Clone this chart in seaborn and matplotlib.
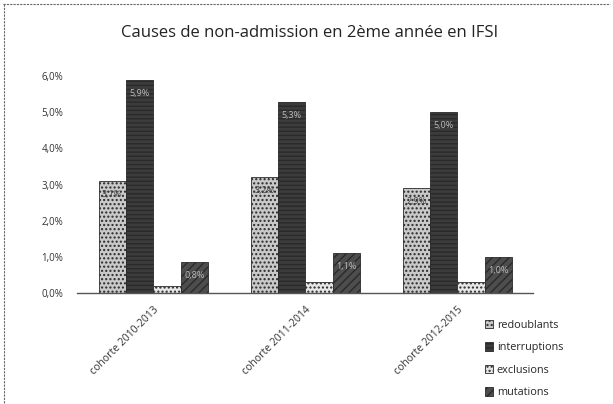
import matplotlib
matplotlib.use("Agg")
import matplotlib.pyplot as plt
import seaborn as sns
import pandas as pd
from matplotlib.patches import Rectangle

cohortes = ["cohorte 2010-2013", "cohorte 2011-2014", "cohorte 2012-2015"]
causes = ["redoublants", "interruptions", "exclusions", "mutations"]
redoublants = [3.1, 3.2, 2.9]
interruptions = [5.9, 5.3, 5.0]
exclusions = [0.2, 0.3, 0.3]
mutations = [0.85, 1.1, 1.0]
yticks = [0, 1, 2, 3, 4, 5, 6]

series = [redoublants, interruptions, exclusions, mutations]
rows = []
for cause, vals in zip(causes, series):
    for c, v in zip(cohortes, vals):
        rows.append({"cohorte": c, "cause": cause, "valeur": v})
df = pd.DataFrame(rows)

sns.set_theme(style="white")
plt.rcParams["font.family"] = ["Open Sans", "DejaVu Sans"]
plt.rcParams["hatch.color"] = "#8a8a8a"

colors = ["#c9c9c9", "#3c3c3c", "#e6e6e6", "#4d4d4d"]
hatches = ["....", "----", "....", "////"]
label_colors = ["#444444", "#bdbdbd", "#444444", "#bdbdbd"]

fig = plt.figure(figsize=(6.13, 4.04), dpi=100)
ax = fig.add_axes([0.126, 0.275, 0.744, 0.581])
sns.barplot(data=df, x="cohorte", y="valeur", hue="cause", hue_order=causes,
            order=cohortes, palette=colors, width=0.72, gap=0, ax=ax,
            edgecolor="#2a2a2a", linewidth=0.6, legend=False, errorbar=None)

for i, cont in enumerate(ax.containers):
    for p in cont.patches:
        p.set_hatch(hatches[i])
    if i != 2:
        labels = [f"{v:.1f}%".replace(".", ",") for v in series[i]]
        ax.bar_label(cont, labels=labels, label_type="edge", padding=-13,
                     fontsize=6.5, color=label_colors[i])

ax.set_xlim(-0.5, 2.5)
ax.set_ylim(0, 6.5)
ax.set_yticks(yticks)
ax.set_yticklabels([f"{t:.1f}%".replace(".", ",") for t in yticks], fontsize=7,
                   color="#333333")
ax.set_xticks(range(3))
ax.set_xticklabels(cohortes, rotation=45, ha="right", rotation_mode="anchor",
                   fontsize=7.5, color="#333333")
ax.tick_params(axis="x", length=0, pad=8)
ax.tick_params(axis="y", length=0, pad=10)
ax.set_xlabel("")
ax.set_ylabel("")
for s in ["top", "right", "left"]:
    ax.spines[s].set_visible(False)
ax.spines["bottom"].set_color("#555555")
ax.spines["bottom"].set_linewidth(1.0)

fig.text(0.505, 0.918, "Causes de non-admission en 2ème année en IFSI",
         ha="center", va="center", fontsize=12, color="#222222")

# legend
handles = [Rectangle((0, 0), 1, 1, facecolor=c, edgecolor="#2a2a2a", hatch=h,
                     linewidth=0.6) for c, h in zip(colors, hatches)]
fig.legend(handles, causes, loc="upper left", bbox_to_anchor=(0.775, 0.232),
           frameon=False, fontsize=7.8, handlelength=0.8, handleheight=0.8,
           handletextpad=0.3, labelspacing=1.05)

# scanned page border
fig.add_artist(plt.Line2D([0.005, 0.995], [0.99, 0.99], transform=fig.transFigure,
                          color="#666666", lw=0.8, ls=(0, (2, 1))))
fig.add_artist(plt.Line2D([0.006, 0.006], [0.99, 0.0], transform=fig.transFigure,
                          color="#666666", lw=0.8, ls=(0, (2, 1))))

fig.savefig("out.png", dpi=100, facecolor="white")
